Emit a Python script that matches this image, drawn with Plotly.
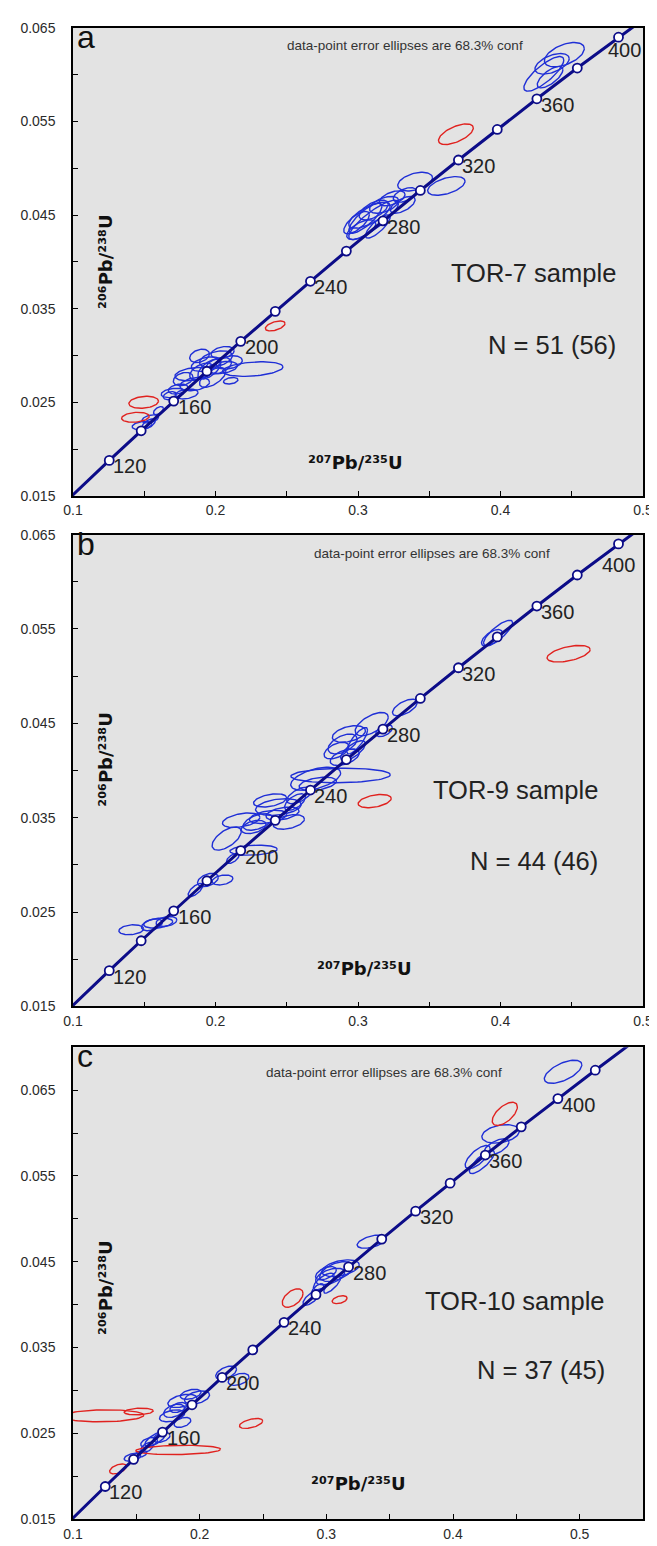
import numpy as np
import plotly.graph_objects as go

# ---------------- Concordia (ages in Ma and ratios) ----------------
conc_age = [90, 100, 120, 140, 160, 180, 200, 220, 240, 260, 280, 300, 320, 340, 360, 380, 400, 420, 440]
conc_x = [0.09268, 0.10350, 0.12545, 0.14784, 0.17067, 0.19396, 0.21771, 0.24193, 0.26664, 0.29183,
          0.31753, 0.34374, 0.37047, 0.39773, 0.42553, 0.45389, 0.48281, 0.51231, 0.54239]
conc_y = [0.014059, 0.015633, 0.018789, 0.021955, 0.025131, 0.028316, 0.031511, 0.034717, 0.037932, 0.041157,
          0.044392, 0.047637, 0.050893, 0.054158, 0.057434, 0.060720, 0.064016, 0.067322, 0.070638]
marker_ages = [120, 140, 160, 180, 200, 220, 240, 260, 280, 300, 320, 340, 360, 380, 400, 420]
label_ages = [120, 160, 200, 240, 280, 320, 360, 400]

# ---------------- Panel a (TOR-7) ellipses ----------------
A_cx = [0.4448, 0.4362, 0.4304, 0.4348, 0.3687, 0.3620, 0.3401, 0.3329, 0.3314, 0.3183, 0.3110, 0.3052, 0.3023,
        0.3110, 0.3139, 0.3080, 0.3240, 0.2990,
        0.2419, 0.1496, 0.1438, 0.2262, 0.2107, 0.2003, 0.1934, 0.2050, 0.1842, 0.1854, 0.1796, 0.1680, 0.1738,
        0.1980, 0.1888, 0.2050, 0.2096, 0.1773, 0.1600, 0.1542, 0.1484, 0.1531, 0.1957, 0.2020, 0.1900, 0.1700]
A_cy = [0.06215, 0.06117, 0.06010, 0.05975, 0.05365, 0.04812, 0.04858, 0.04716, 0.04610, 0.04610, 0.04450, 0.04467,
        0.04344, 0.04555, 0.04379, 0.04500, 0.04680, 0.04420,
        0.03316, 0.02500, 0.02340, 0.02855, 0.02730, 0.02961, 0.02908, 0.02872, 0.02801, 0.02695, 0.02589, 0.02571,
        0.02642, 0.02766, 0.02996, 0.03032, 0.02926, 0.02748, 0.02411, 0.02323, 0.02252, 0.02270, 0.02855, 0.02890,
        0.02830, 0.02600]
A_sx = [0.0140, 0.0120, 0.0140, 0.0090, 0.0122, 0.0131, 0.0122, 0.0081, 0.0087, 0.0102, 0.0175, 0.0116, 0.0102,
        0.0102, 0.0087, 0.0145, 0.0090, 0.0090,
        0.0069, 0.0104, 0.0097, 0.0212, 0.0051, 0.0115, 0.0104, 0.0104, 0.0127, 0.0104, 0.0081, 0.0046, 0.0069,
        0.0092, 0.0069, 0.0081, 0.0092, 0.0069, 0.0035, 0.0058, 0.0069, 0.0046, 0.0081, 0.0092, 0.0081, 0.0081]
A_sy = [0.00130, 0.00110, 0.00185, 0.00115, 0.00110, 0.00100, 0.00100, 0.00078, 0.00090, 0.00090, 0.00210, 0.00160,
        0.00106, 0.00106, 0.00124, 0.00140, 0.00080, 0.00120,
        0.00053, 0.00064, 0.00053, 0.00078, 0.00035, 0.00089, 0.00078, 0.00064, 0.00071, 0.00071, 0.00053, 0.00043,
        0.00053, 0.00106, 0.00071, 0.00064, 0.00071, 0.00071, 0.00043, 0.00043, 0.00043, 0.00053, 0.00106, 0.00089,
        0.00089, 0.00050]
A_rho = [0.5, 0.5, 0.8, 0.7, 0.6, 0.5, 0.4, 0.5, 0.6, 0.5, 0.85, 0.8, 0.6, 0.6, 0.8, 0.7, 0.5, 0.7,
         0.5, 0.2, 0.2, 0.3, 0.3, 0.4, 0.4, 0.3, 0.3, 0.3, 0.3, 0.3, 0.3, 0.6, 0.3, 0.3, 0.3, 0.3, 0.5, 0.4, 0.3,
         0.6, 0.6, 0.4, 0.5, 0.3]
A_rej = [0, 0, 0, 0, 1, 0, 0, 0, 0, 0, 0, 0, 0, 0, 0, 0, 0, 0,
         1, 1, 1, 0, 0, 0, 0, 0, 0, 0, 0, 0, 0, 0, 0, 0, 0, 0, 0, 0, 0, 0, 0, 0, 0, 0]

# ---------------- Panel b (TOR-9) ellipses ----------------
B_cx = [0.4478, 0.3983, 0.3940, 0.3329, 0.3096, 0.3183, 0.2936, 0.2892, 0.2965, 0.2907, 0.2849, 0.2994,
        0.2878, 0.2703, 0.2718, 0.2587, 0.2558, 0.3117, 0.2441, 0.2470, 0.2369, 0.2296, 0.2267, 0.2514, 0.2180,
        0.2078, 0.2267, 0.2121, 0.1947, 0.2049, 0.1860, 0.1598, 0.1656, 0.1409, 0.1554, 0.2383]
B_cy = [0.05238, 0.05459, 0.05406, 0.04668, 0.04492, 0.04422, 0.04387, 0.04281, 0.04211, 0.04141, 0.04211, 0.04316,
        0.03947, 0.03912, 0.03859, 0.03736, 0.03666, 0.03676, 0.03613, 0.03543, 0.03508, 0.03455, 0.03402, 0.03455,
        0.03473, 0.03279, 0.03156, 0.03068, 0.02840, 0.02840, 0.02734, 0.02383, 0.02400, 0.02312, 0.02365, 0.03683]
B_sx = [0.0151, 0.0102, 0.0073, 0.0087, 0.0116, 0.0058, 0.0116, 0.0102, 0.0087, 0.0102, 0.0087, 0.0073,
        0.0349, 0.0175, 0.0131, 0.0087, 0.0073, 0.0116, 0.0160, 0.0116, 0.0131, 0.0102, 0.0087, 0.0110, 0.0131,
        0.0102, 0.0166, 0.0044, 0.0073, 0.0073, 0.0052, 0.0102, 0.0073, 0.0087, 0.0073, 0.0116]
B_sy = [0.00088, 0.00134, 0.00088, 0.00088, 0.00123, 0.00063, 0.00088, 0.00105, 0.00105, 0.00088, 0.00088, 0.00140,
        0.00077, 0.00123, 0.00070, 0.00088, 0.00088, 0.00070, 0.00088, 0.00070, 0.00070, 0.00088, 0.00070, 0.00077,
        0.00077, 0.00123, 0.00053, 0.00053, 0.00070, 0.00053, 0.00070, 0.00053, 0.00053, 0.00053, 0.00063, 0.00070]
B_rho = [0.5, 0.8, 0.6, 0.6, 0.6, 0.5, 0.4, 0.5, 0.7, 0.5, 0.5, 0.8,
         0.1, 0.5, 0.4, 0.6, 0.6, 0.4, 0.3, 0.4, 0.4, 0.5, 0.4, 0.4, 0.4, 0.6, 0.2, 0.6, 0.4, 0.3, 0.7, 0.3, 0.3,
         0.2, 0.4, 0.4]
B_rej = [1, 0, 0, 0, 0, 0, 0, 0, 0, 0, 0, 0, 0, 0, 0, 0, 0, 1, 0, 0, 0, 0, 0, 0, 0, 0, 0, 0, 0, 0, 0, 0, 0, 0, 0, 0]

# ---------------- Panel c (TOR-10) ellipses ----------------
C_cx = [0.4869, 0.4409, 0.4376, 0.4343, 0.4195, 0.4228, 0.3358, 0.3079, 0.3030, 0.2980, 0.3112, 0.2997, 0.3046,
        0.2734, 0.3105, 0.2882, 0.2931, 0.2209, 0.2307, 0.1979, 0.1864, 0.1798, 0.1782, 0.1864, 0.1831,
        0.1240, 0.1519, 0.1650, 0.1601, 0.1700, 0.1585, 0.1831, 0.1355, 0.1470, 0.1535, 0.2406, 0.1929]
C_cy = [0.06714, 0.06223, 0.05990, 0.05836, 0.05720, 0.05662, 0.04734, 0.04385, 0.04327, 0.04269, 0.04424, 0.04366,
        0.04230, 0.04076, 0.04057, 0.04076, 0.04173, 0.03206, 0.03128, 0.02916, 0.02877, 0.02761, 0.02703, 0.02626,
        0.02800, 0.02703, 0.02753, 0.02432, 0.02393, 0.02451, 0.02335, 0.02305, 0.02084, 0.02220, 0.02258, 0.02614,
        0.02954]
C_sx = [0.0148, 0.0099, 0.0148, 0.0099, 0.0099, 0.0099, 0.0115, 0.0131, 0.0115, 0.0082, 0.0148, 0.0082, 0.0066,
        0.0082, 0.0059, 0.0066, 0.0049, 0.0082, 0.0082, 0.0099, 0.0115, 0.0082, 0.0099, 0.0066, 0.0066,
        0.0319, 0.0115, 0.0082, 0.0066, 0.0066, 0.0049, 0.0335, 0.0066, 0.0066, 0.0049, 0.0092, 0.0082]
C_sy = [0.00135, 0.00135, 0.00108, 0.00097, 0.00135, 0.00135, 0.00077, 0.00116, 0.00097, 0.00097, 0.00097, 0.00077,
        0.00097, 0.00108, 0.00046, 0.00085, 0.00070, 0.00077, 0.00070, 0.00077, 0.00077, 0.00077, 0.00070, 0.00058,
        0.00058, 0.00070, 0.00039, 0.00085, 0.00058, 0.00058, 0.00058, 0.00054, 0.00058, 0.00046, 0.00039, 0.00058,
        0.00058]
C_rho = [0.6, 0.6, 0.3, 0.6, 0.7, 0.8, 0.5, 0.5, 0.5, 0.7, 0.4, 0.5, 0.8,
         0.5, 0.4, 0.7, 0.6, 0.5, 0.4, 0.4, 0.4, 0.4, 0.4, 0.4, 0.4, 0.1, 0.2, 0.7, 0.4, 0.4, 0.5, 0.15, 0.5, 0.4,
         0.4, 0.5, 0.4]
C_rej = [0, 1, 0, 0, 0, 0, 0, 0, 0, 0, 0, 0, 0, 1, 1, 0, 0, 0, 0, 0, 0, 0, 0, 0, 0, 1, 1, 0, 0, 0, 0, 1, 1, 0,
         0, 1, 0]

panel_letters = ["a", "b", "c"]
sample_names = ["TOR-7 sample", "TOR-9 sample", "TOR-10 sample"]
n_texts = ["N = 51 (56)", "N = 44 (46)", "N = 37 (45)"]
conf_text = "data-point error ellipses are 68.3% conf"
x_title = "²⁰⁷Pb/²³⁵U"
y_title = "²⁰⁶Pb/²³⁸U"

# ---------------- styling ----------------
BLUE = "#1f2fd6"
RED = "#e0221f"
NAVY = "#0c0c88"
FONT = "Liberation Sans, Arial, sans-serif"
TITLE_FONT = "DejaVu Sans"


def ellipse_paths(cx, cy, sx, sy, rho, rej, want):
    xs, ys = [], []
    t = np.linspace(0, 2 * np.pi, 73)
    for i in range(len(cx)):
        if rej[i] != want:
            continue
        r = rho[i]
        ex = cx[i] + sx[i] * np.cos(t)
        ey = cy[i] + sy[i] * (r * np.cos(t) + np.sqrt(1 - r * r) * np.sin(t))
        xs += list(ex) + [None]
        ys += list(ey) + [None]
    return xs, ys


fig = go.Figure()

panels = [
    (A_cx, A_cy, A_sx, A_sy, A_rho, A_rej),
    (B_cx, B_cy, B_sx, B_sy, B_rho, B_rej),
    (C_cx, C_cy, C_sx, C_sy, C_rho, C_rej),
]
mk_x = [conc_x[conc_age.index(a)] for a in marker_ages]
mk_y = [conc_y[conc_age.index(a)] for a in marker_ages]

for k, (cx, cy, sx, sy, rho, rej) in enumerate(panels):
    xa = "x" if k == 0 else f"x{k+1}"
    ya = "y" if k == 0 else f"y{k+1}"
    for want, col in [(0, BLUE), (1, RED)]:
        ex, ey = ellipse_paths(cx, cy, sx, sy, rho, rej, want)
        fig.add_trace(go.Scatter(x=ex, y=ey, mode="lines", line=dict(color=col, width=1.4),
                                 xaxis=xa, yaxis=ya, showlegend=False, hoverinfo="skip"))
    fig.add_trace(go.Scatter(x=conc_x, y=conc_y, mode="lines", line=dict(color=NAVY, width=3),
                             xaxis=xa, yaxis=ya, showlegend=False, hoverinfo="skip"))
    fig.add_trace(go.Scatter(x=mk_x, y=mk_y, mode="markers",
                             marker=dict(size=9, color="white", line=dict(color=NAVY, width=1.8)),
                             xaxis=xa, yaxis=ya, showlegend=False, hoverinfo="skip"))

y_domains = [[0.6862, 1.0], [0.3438, 0.6602], [0.0, 0.3164]]
x_ranges = [[0.1, 0.5], [0.1, 0.5], [0.1, 0.55]]
y_ranges = [[0.015, 0.065], [0.015, 0.065], [0.015, 0.07]]

axis_common = dict(showline=True, linecolor="black", linewidth=1.5, mirror=True, showgrid=False,
                   zeroline=False, ticks="inside", ticklen=5, tickwidth=1, tickcolor="black",
                   tickfont=dict(family=FONT, size=14, color="#2a2a2a"))

layout = dict(width=657, height=1546, paper_bgcolor="white", plot_bgcolor="#e3e3e3",
              margin=dict(l=65, r=14, t=14, b=34), showlegend=False)
for k in range(3):
    xn = "xaxis" if k == 0 else f"xaxis{k+1}"
    yn = "yaxis" if k == 0 else f"yaxis{k+1}"
    ya = "y" if k == 0 else f"y{k+1}"
    xa = "x" if k == 0 else f"x{k+1}"
    layout[xn] = dict(axis_common, domain=[0, 1], anchor=ya, range=x_ranges[k], tick0=0.1, dtick=0.1,
                      tickformat=".1f", ticklabelstandoff=1,
                      minor=dict(ticks="inside", dtick=0.05, tick0=0.1, ticklen=5, tickcolor="black"))
    layout[yn] = dict(axis_common, domain=y_domains[k], anchor=xa, range=y_ranges[k], tick0=0.015, dtick=0.01,
                      tickformat=".3f", ticklabelstandoff=13,
                      minor=dict(ticks="inside", dtick=0.005, tick0=0.015, ticklen=5, tickcolor="black"))
fig.update_layout(**layout)

# ---------------- annotations ----------------
conf_pos = [(0.583, 0.962), (0.630, 0.960), (0.545, 0.947)]
name_pos = [(0.957, 0.477), (0.924, 0.458), (0.936, 0.462)]
n_pos = [(0.957, 0.323), (0.924, 0.308), (0.936, 0.316)]
xlab_pos = [(0.495, 0.072), (0.512, 0.080), (0.50, 0.076)]
ylab_pos = [(0.058, 0.50), (0.058, 0.523), (0.058, 0.49)]
# per-label placement tweaks (panel, age): (xanchor, xshift, yshift)
label_tweak = {(0, 400): ("center", 6, 0), (1, 400): ("center", 0, -8)}

ann = []
for k in range(3):
    xa = "x" if k == 0 else f"x{k+1}"
    ya = "y" if k == 0 else f"y{k+1}"
    xd, yd = xa + " domain", ya + " domain"
    ann.append(dict(text=panel_letters[k], x=0.0, y=1.0, xref=xd, yref=yd, xanchor="left", yanchor="top",
                    xshift=2, yshift=11, showarrow=False, font=dict(family=FONT, size=32, color="#111")))
    ann.append(dict(text=conf_text, x=conf_pos[k][0], y=conf_pos[k][1], xref=xd, yref=yd, xanchor="center",
                    yanchor="middle", showarrow=False, font=dict(family=FONT, size=13.5, color="#333")))
    ann.append(dict(text=sample_names[k], x=name_pos[k][0], y=name_pos[k][1], xref=xd, yref=yd, xanchor="right",
                    yanchor="middle", showarrow=False, font=dict(family=FONT, size=25.5, color="#222")))
    ann.append(dict(text=n_texts[k], x=n_pos[k][0], y=n_pos[k][1], xref=xd, yref=yd, xanchor="right",
                    yanchor="middle", showarrow=False, font=dict(family=FONT, size=25.5, color="#222")))
    ann.append(dict(text=x_title, x=xlab_pos[k][0], y=xlab_pos[k][1],
                    xref=xd, yref=yd, xanchor="center", yanchor="middle", showarrow=False,
                    font=dict(family=TITLE_FONT, size=18, color="#111", weight="bold")))
    ann.append(dict(text=y_title, x=ylab_pos[k][0], y=ylab_pos[k][1],
                    xref=xd, yref=yd, xanchor="center", yanchor="middle", showarrow=False, textangle=-90,
                    font=dict(family=TITLE_FONT, size=18, color="#111", weight="bold")))
    for a in label_ages:
        i = conc_age.index(a)
        anc, xs_, ys_ = label_tweak.get((k, a), ("left", 2, 7))
        ann.append(dict(text=str(a), x=conc_x[i], y=conc_y[i], xref=xa, yref=ya, xanchor=anc,
                        yanchor="top", xshift=xs_, yshift=ys_, showarrow=False,
                        font=dict(family=FONT, size=20, color="#222")))
fig.update_layout(annotations=ann)

fig.write_html("out.html")
